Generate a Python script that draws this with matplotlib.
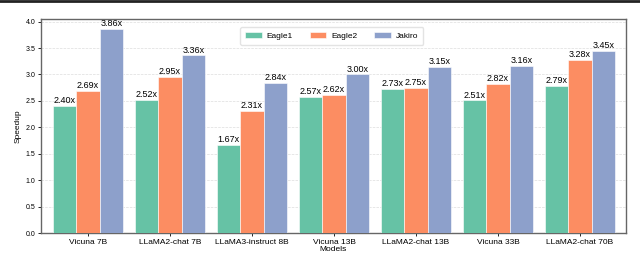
import matplotlib
matplotlib.use("Agg")
import matplotlib.pyplot as plt
import numpy as np

plt.rcParams["font.family"] = ["Liberation Sans", "DejaVu Sans"]

models = ["Vicuna 7B", "LLaMA2-chat 7B", "LLaMA3-instruct 8B", "Vicuna 13B",
          "LLaMA2-chat 13B", "Vicuna 33B", "LLaMA2-chat 70B"]
eagle1 = [2.40, 2.52, 1.67, 2.57, 2.73, 2.51, 2.79]
eagle2 = [2.69, 2.95, 2.31, 2.62, 2.75, 2.82, 3.28]
jakiro = [3.86, 3.36, 2.84, 3.00, 3.15, 3.16, 3.45]

series = [("Eagle1", eagle1, "#66c2a5"),
          ("Eagle2", eagle2, "#fc8d62"),
          ("Jakiro", jakiro, "#8da0cb")]

fig = plt.figure(figsize=(6.4, 2.54), dpi=100)
ax = fig.add_axes([41 / 640, 1 - 233 / 254, 585 / 640, 214 / 254])

x = np.arange(len(models))
w = 0.285
for i, (name, vals, col) in enumerate(series):
    bars = ax.bar(x + (i - 1) * w, vals, w, color=col, label=name,
                  edgecolor="white", linewidth=0.4, zorder=3)
    for b, v in zip(bars, vals):
        ax.text(b.get_x() + b.get_width() / 2, v + 0.015, f"{v:.2f}x",
                ha="center", va="bottom", fontsize=6.5, zorder=4)

ax.set_xlim(-0.573, 6.56)
ax.set_ylim(0, 4.05)
ax.set_yticks(np.arange(0, 4.01, 0.5))
ax.set_xticks(x)
ax.set_xticklabels(models, fontsize=6)
ax.tick_params(axis="y", labelsize=5, length=2.5, width=0.6, pad=1.5)
ax.tick_params(axis="x", length=2.5, width=0.6, pad=1.5)
ax.set_xlabel("Models", fontsize=6, labelpad=0)
ax.set_ylabel("Speedup", fontsize=6, labelpad=3)
ax.grid(axis="y", linestyle="--", linewidth=0.5, color="#dddddd", zorder=0)
for s in ax.spines.values():
    s.set_color("#666666")
    s.set_linewidth(1.0)

ax.legend(loc="upper center", ncol=3, fontsize=6, frameon=True,
          bbox_to_anchor=(0.497, 0.962), borderaxespad=0,
          handlelength=2.0, columnspacing=2.0, handletextpad=0.6,
          edgecolor="#dddddd", fancybox=True, borderpad=0.6)

# dark rule along the top edge of the figure
fig.add_artist(plt.Line2D([0, 1], [0.996, 0.996], color="#222222",
                          linewidth=2.0, transform=fig.transFigure))

fig.savefig("out.png", dpi=100)
